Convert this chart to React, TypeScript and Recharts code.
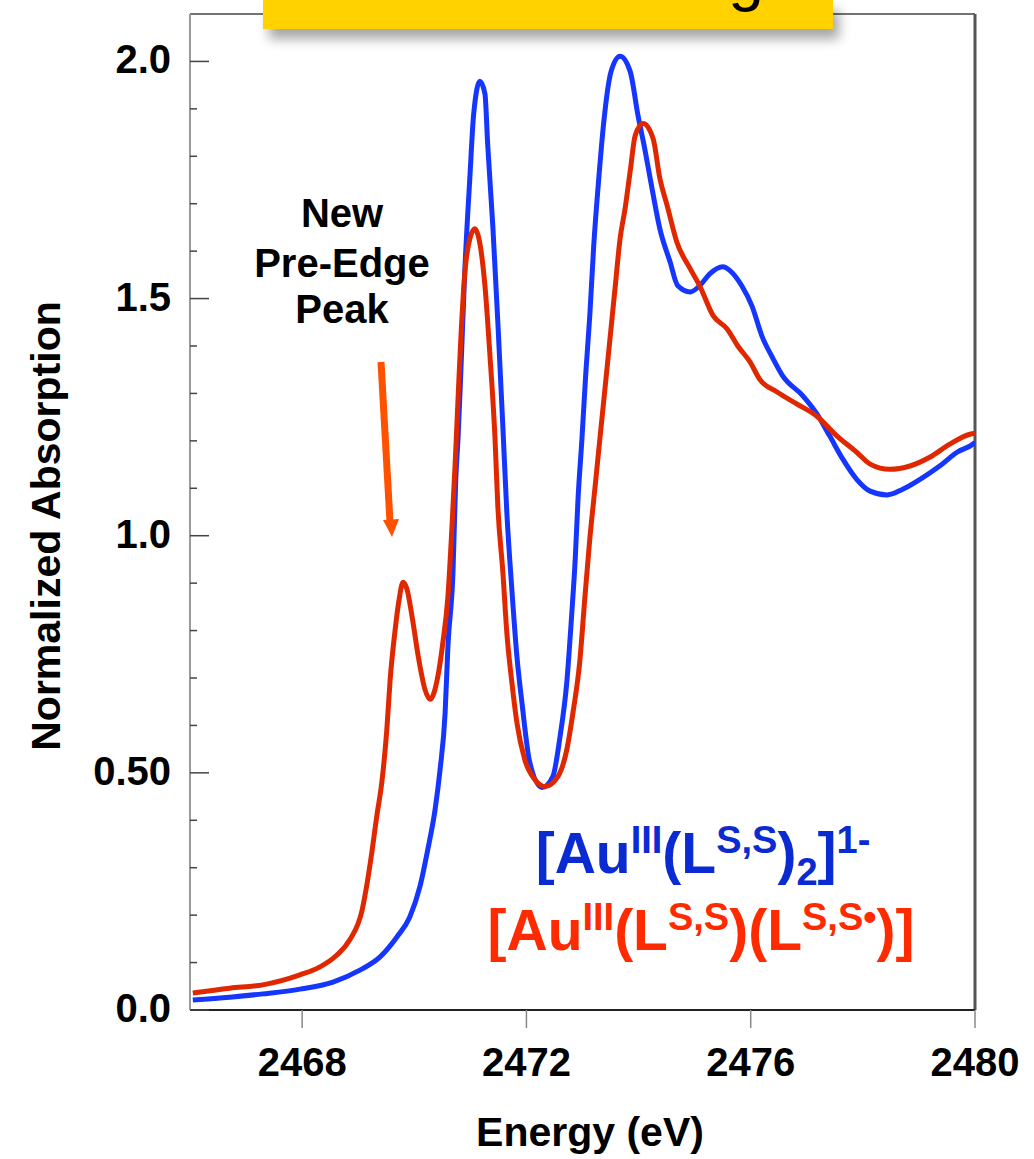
import React from 'react'
import { LineChart, Line, XAxis, YAxis, ReferenceLine } from 'recharts'

// energies (eV) and normalized absorption
const blueEnergy = [
  2466.05, 2466.71, 2467.3, 2467.96, 2468.55, 2469.03, 2469.39, 2469.69, 2469.92, 2470.1,
  2470.24, 2470.37, 2470.46, 2470.55, 2470.6, 2470.69, 2470.74, 2470.78, 2470.83, 2470.9,
  2470.99, 2471.06, 2471.17, 2471.26, 2471.31, 2471.4, 2471.49, 2471.58, 2471.65, 2471.74,
  2471.83, 2471.92, 2472.06, 2472.28, 2472.47, 2472.6, 2472.72, 2472.81, 2472.87, 2472.92,
  2472.99, 2473.06, 2473.13, 2473.2, 2473.29, 2473.38, 2473.51, 2473.67, 2473.85, 2473.99,
  2474.11, 2474.24, 2474.38, 2474.56, 2474.7, 2474.92, 2475.09, 2475.27, 2475.5, 2475.63,
  2475.84, 2476.02, 2476.2, 2476.4, 2476.57, 2476.93, 2477.18, 2477.41, 2477.64, 2477.89,
  2478.13, 2478.43, 2478.71, 2479.02, 2479.37, 2479.68, 2479.96, 2480.0,
]
const blueAbs = [
  0.021, 0.027, 0.034, 0.044, 0.059, 0.084, 0.112, 0.154, 0.196, 0.26,
  0.338, 0.422, 0.507, 0.627, 0.767, 0.923, 1.119, 1.204, 1.345, 1.556,
  1.753, 1.89, 1.958, 1.932, 1.823, 1.654, 1.451, 1.229, 1.05, 0.887,
  0.746, 0.648, 0.522, 0.469, 0.492, 0.577, 0.691, 0.838, 0.95, 1.077,
  1.204, 1.345, 1.464, 1.611, 1.753, 1.873, 1.979, 2.011, 1.979, 1.886,
  1.816, 1.732, 1.647, 1.578, 1.527, 1.514, 1.527, 1.552, 1.567, 1.559,
  1.527, 1.485, 1.421, 1.373, 1.337, 1.295, 1.257, 1.21, 1.162, 1.119,
  1.094, 1.086, 1.098, 1.119, 1.147, 1.176, 1.193, 1.197,
]

const redEnergy = [
  2466.05, 2466.71, 2467.3, 2467.96, 2468.32, 2468.62, 2468.85, 2469.07, 2469.16, 2469.25,
  2469.33, 2469.42, 2469.51, 2469.57, 2469.66, 2469.73, 2469.8, 2469.87, 2469.96, 2470.07,
  2470.19, 2470.28, 2470.42, 2470.51, 2470.6, 2470.67, 2470.73, 2470.78, 2470.83, 2470.9,
  2470.99, 2471.08, 2471.17, 2471.26, 2471.35, 2471.44, 2471.49, 2471.58, 2471.65, 2471.74,
  2471.83, 2471.97, 2472.15, 2472.33, 2472.56, 2472.72, 2472.83, 2472.95, 2473.04, 2473.13,
  2473.22, 2473.31, 2473.4, 2473.49, 2473.58, 2473.67, 2473.76, 2473.85, 2473.94, 2474.08,
  2474.26, 2474.38, 2474.51, 2474.68, 2474.92, 2475.09, 2475.33, 2475.58, 2475.77, 2475.99,
  2476.16, 2476.47, 2476.82, 2477.18, 2477.54, 2477.89, 2478.13, 2478.48, 2478.84, 2479.2,
  2479.55, 2479.91, 2480.0,
]
const redAbs = [
  0.036, 0.046, 0.053, 0.074, 0.091, 0.116, 0.148, 0.211, 0.268, 0.338,
  0.408, 0.479, 0.591, 0.697, 0.803, 0.866, 0.902, 0.887, 0.83, 0.746,
  0.676, 0.655, 0.703, 0.775, 0.872, 1.014, 1.155, 1.288, 1.415, 1.552,
  1.626, 1.647, 1.616, 1.527, 1.379, 1.204, 1.062, 0.923, 0.796, 0.691,
  0.606, 0.528, 0.486, 0.471, 0.492, 0.549, 0.627, 0.733, 0.866, 0.993,
  1.098, 1.204, 1.309, 1.415, 1.521, 1.626, 1.69, 1.768, 1.844, 1.869,
  1.837, 1.753, 1.696, 1.62, 1.563, 1.527, 1.464, 1.436, 1.4, 1.366,
  1.33, 1.303, 1.278, 1.252, 1.21, 1.176, 1.151, 1.14, 1.147, 1.166,
  1.193, 1.214, 1.216,
]

const xTicks = [2468, 2472, 2476, 2480]
const yMajorTicks = [0, 0.5, 1.0, 1.5, 2.0]
const yMajorLabels = ['0.0', '0.50', '1.0', '1.5', '2.0']
const yMinorTicks = [0.1, 0.2, 0.3, 0.4, 0.6, 0.7, 0.8, 0.9, 1.1, 1.2, 1.3, 1.4, 1.6, 1.7, 1.8, 1.9]

const blueData = blueEnergy.map((e, i) => ({ e, v: blueAbs[i] }))
const redData = redEnergy.map((e, i) => ({ e, v: redAbs[i] }))
const yTicks = [...yMajorTicks, ...yMinorTicks].sort((a, b) => a - b)

const FONT = '"Liberation Sans", Arial, Helvetica, sans-serif'
const BLUE = '#1436ff'
const RED = '#e02800'

function YTick(props: any) {
  const { x, y, payload } = props
  const idx = yMajorTicks.indexOf(payload.value)
  if (idx < 0) {
    return <line x1={x} x2={x + 7} y1={y} y2={y} stroke="#444" strokeWidth={1.5} />
  }
  return (
    <g>
      <line x1={x} x2={x + 19} y1={y} y2={y} stroke="#444" strokeWidth={1.5} />
      <text x={x - 19} y={y + 12} textAnchor="end" fontSize={40} fontWeight="bold" fill="#000" fontFamily={FONT}>
        {yMajorLabels[idx]}
      </text>
    </g>
  )
}

function XTick(props: any) {
  const { x, y, payload } = props
  return (
    <g>
      <line x1={x} x2={x} y1={y} y2={y + 18} stroke="#888" strokeWidth={1.5} />
      <text x={x} y={y + 66} textAnchor="middle" fontSize={40} fontWeight="bold" fill="#000" fontFamily={FONT}>
        {payload.value}
      </text>
    </g>
  )
}

export default function App() {
  return (
    <div style={{ position: 'absolute', left: 0, top: 0, width: 1034, height: 1159, overflow: 'hidden', background: '#fff' }}>
      <LineChart width={1034} height={1159} margin={{ top: 14, right: 59, bottom: 0, left: 0 }}>
        <XAxis
          type="number"
          dataKey="e"
          domain={[2466, 2480]}
          ticks={xTicks}
          interval={0}
          allowDataOverflow
          height={149}
          tickSize={0}
          tickMargin={0}
          tickLine={false}
          tick={<XTick />}
          axisLine={{ stroke: '#222', strokeWidth: 2 }}
        />
        <YAxis
          type="number"
          dataKey="v"
          domain={[0, 2.1]}
          ticks={yTicks}
          interval={0}
          allowDataOverflow
          width={190}
          tickSize={0}
          tickMargin={0}
          tickLine={false}
          tick={<YTick />}
          axisLine={{ stroke: '#9a9a9a', strokeWidth: 2 }}
        />
        <ReferenceLine y={2.1} stroke="#444" strokeWidth={1.5} />
        <ReferenceLine x={2480} stroke="#555" strokeWidth={3} />
        <Line data={blueData} dataKey="v" type="monotone" stroke={BLUE} strokeWidth={5} dot={false} isAnimationActive={false} />
        <Line data={redData} dataKey="v" type="monotone" stroke={RED} strokeWidth={5} dot={false} isAnimationActive={false} />
      </LineChart>

      <svg width={1034} height={1159} style={{ position: 'absolute', left: 0, top: 0, pointerEvents: 'none' }}>
        <text x={60} y={526} transform="rotate(-90, 60, 526)" textAnchor="middle" fontSize={41} fontWeight="bold" fill="#000" fontFamily={FONT}>
          Normalized Absorption
        </text>
        <text x={590} y={1146} textAnchor="middle" fontSize={41} fontWeight="bold" fill="#000" fontFamily={FONT}>
          Energy (eV)
        </text>

        <g fontSize={40} fontWeight="bold" fill="#000" fontFamily={FONT} textAnchor="middle">
          <text x={342} y={227}>New</text>
          <text x={342} y={277}>Pre-Edge</text>
          <text x={342} y={323}>Peak</text>
        </g>
        <line x1={381} y1={362} x2={390} y2={522} stroke="#ff5100" strokeWidth={7} />
        <polygon points="392,537 399,519 383,520" fill="#ff5100" />

        <text x={703} y={873} textAnchor="middle" fontSize={57} fontWeight="bold" fill="#0a2ad2" fontFamily={FONT}>
          [Au<tspan fontSize={38} dy={-20}>III</tspan>
          <tspan dy={20}>(L</tspan>
          <tspan fontSize={38} dy={-20}>S,S</tspan>
          <tspan dy={20}>)</tspan>
          <tspan fontSize={38} dy={12}>2</tspan>
          <tspan dy={-12}>]</tspan>
          <tspan fontSize={38} dy={-20}>1-</tspan>
        </text>
        <text x={701} y={950} textAnchor="middle" fontSize={57} fontWeight="bold" fill="#ff2a00" fontFamily={FONT}>
          [Au<tspan fontSize={38} dy={-20}>III</tspan>
          <tspan dy={20}>(L</tspan>
          <tspan fontSize={38} dy={-20}>S,S</tspan>
          <tspan dy={20}>)(L</tspan>
          <tspan fontSize={38} dy={-20}>S,S•</tspan>
          <tspan dy={20}>)]</tspan>
        </text>
      </svg>

      <div
        style={{
          position: 'absolute',
          left: 263,
          top: 0,
          width: 570,
          height: 29,
          background: '#ffd200',
          boxShadow: '6px 10px 12px rgba(0,0,0,0.35)',
          overflow: 'hidden',
        }}
      >
        <svg width={570} height={29}>
          <text x={483} y={-1} textAnchor="middle" fontSize={64} fill="#000" fontFamily={FONT}>
            g
          </text>
        </svg>
      </div>
    </div>
  )
}
